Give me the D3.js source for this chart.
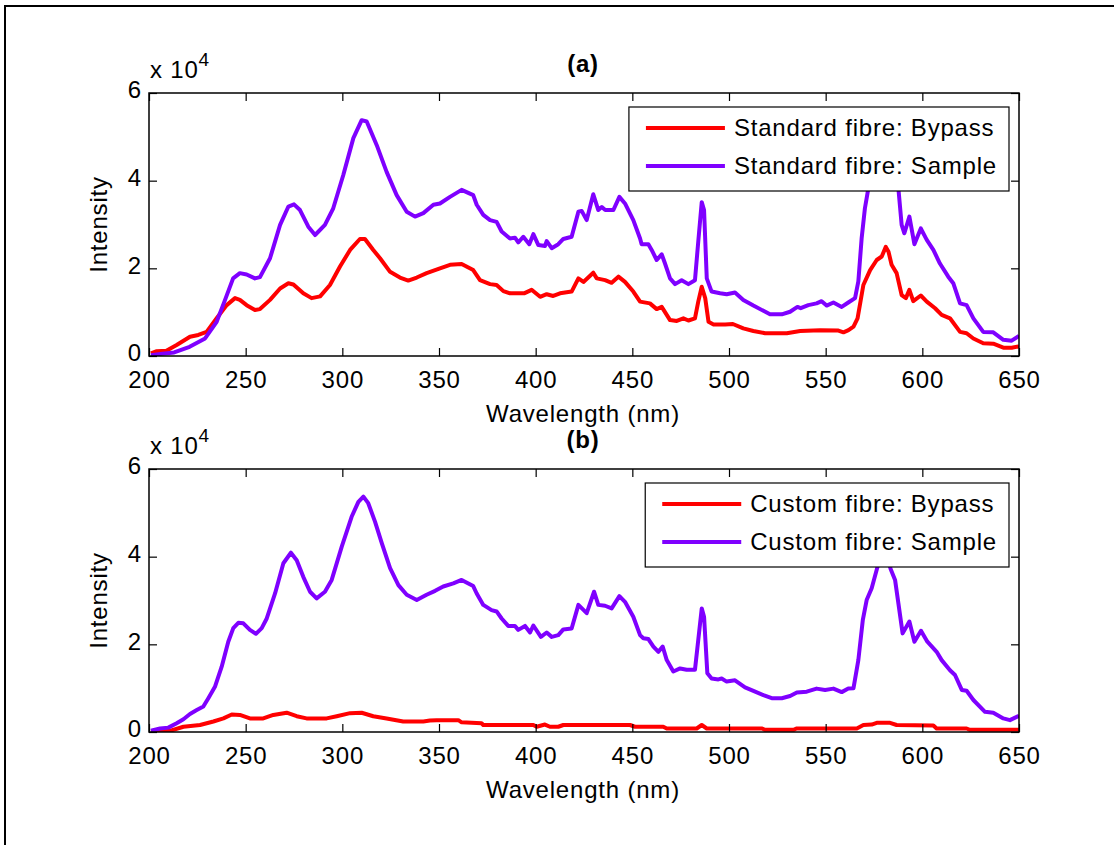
<!DOCTYPE html>
<html>
<head>
<meta charset="utf-8">
<script src="https://cdn.jsdelivr.net/npm/d3@7"></script>
<style>
  html, body { margin: 0; padding: 0; background: #fff; }
  svg { display: block; font-family: "Liberation Sans", Arial, Helvetica, sans-serif; }
  text { letter-spacing: 0.8px; }
</style>
</head>
<body>
<svg id="fig" width="1114" height="845"></svg>
<script>
// ---- data (intensity in units of 10^4 counts) ----
const wavelengthTicks = [200, 250, 300, 350, 400, 450, 500, 550, 600, 650];
const intensityTicks = [0, 2, 4, 6];

const standardSampleWl = [201, 207, 213, 221, 229, 235, 239, 243.5, 247, 250.5,
  254.8, 257.4, 262.6, 267.8, 272.1, 275, 278.1, 282.4, 285.9, 291,
  295.3, 300.5, 305.7, 310, 312.6, 317.8, 322.9, 328.1, 333.3, 337.6,
  341.9, 347.1, 350.5, 355.7, 361.7, 367.7, 369.5, 372.9, 376.4, 379.8,
  382.4, 386.7, 389.3, 391, 393.6, 396.7, 398.8, 401.4, 404.8, 405.7,
  408.3, 411.7, 414.3, 418.6, 422.1, 423.8, 426.4, 429.8, 432.4, 434.2,
  436, 440.2, 443.3, 446.2, 450.5, 454, 454.8, 458.3, 460, 462.6,
  465.2, 466.9, 469.5, 472.1, 475.5, 479, 482.4, 484.1, 485.9, 487.1,
  488.5, 491, 495.4, 498.8, 503.1, 507.4, 512.6, 517.8, 521.2, 527.3,
  531.6, 535.4, 537.1, 541, 545.3, 547.9, 550.5, 554, 558.3, 561.7,
  565.2, 566.9, 568.6, 570.3, 572.1, 576, 580, 584, 587.6, 589.3,
  590.7, 593.3, 595.9, 599.2, 602.3, 605.7, 609.1, 613.4, 616, 619.5,
  622.9, 626.4, 631.5, 636.7, 641.9, 646.2, 650];
const standardSample = [0.02, 0.05, 0.08, 0.21, 0.40, 0.78, 1.24, 1.77, 1.89, 1.86,
  1.77, 1.80, 2.23, 2.99, 3.41, 3.46, 3.33, 2.95, 2.76, 2.99,
  3.37, 4.13, 4.97, 5.38, 5.35, 4.81, 4.20, 3.67, 3.29, 3.18,
  3.26, 3.45, 3.48, 3.63, 3.79, 3.67, 3.45, 3.22, 3.10, 3.06,
  2.84, 2.68, 2.70, 2.59, 2.72, 2.55, 2.78, 2.53, 2.51, 2.62,
  2.46, 2.55, 2.67, 2.72, 3.29, 3.31, 3.10, 3.69, 3.33, 3.40,
  3.33, 3.33, 3.63, 3.48, 3.10, 2.68, 2.55, 2.55, 2.42, 2.19,
  2.32, 2.11, 1.77, 1.64, 1.73, 1.64, 1.73, 2.61, 3.51, 3.33,
  1.77, 1.47, 1.43, 1.41, 1.45, 1.28, 1.15, 1.03, 0.95, 0.95,
  1.01, 1.12, 1.09, 1.16, 1.20, 1.25, 1.15, 1.22, 1.12, 1.22,
  1.32, 1.70, 2.68, 3.37, 3.83, 4.40, 4.60, 4.40, 3.83, 2.99,
  2.80, 3.18, 2.55, 2.91, 2.65, 2.42, 2.11, 1.81, 1.66, 1.20,
  1.16, 0.86, 0.55, 0.54, 0.37, 0.35, 0.46];

const standardBypassWl = [201, 204, 209, 214.3, 221.2, 225.5, 229.8, 235, 240.2, 244.5,
  247, 250.5, 254.8, 257.4, 262.6, 267.8, 272.1, 274.7, 279.8, 284.1,
  288.5, 293.6, 298.8, 304, 309.1, 311.7, 316, 319.5, 324.7, 329.8,
  334.1, 338.5, 343.6, 350.5, 355.7, 361.7, 367.7, 371.2, 376.4, 379.8,
  383.3, 386.7, 391, 394, 397.9, 402.3, 405.7, 409.1, 412.6, 418.6,
  422.1, 424.7, 429.8, 431.6, 435.9, 439.3, 442.8, 446.2, 450.5, 454,
  459.1, 462.6, 465.2, 469.5, 473, 476.4, 479, 482.4, 484.1, 485.9,
  487.7, 489.4, 492, 498, 502, 507.4, 512.6, 518.7, 529.9, 536.8,
  547.1, 556.6, 559.2, 561.8, 564.4, 566.5, 569.5, 573, 576.4, 579,
  581.1, 582.5, 584.1, 586.7, 589.3, 591.5, 593.3, 595.3, 599.2, 602.3,
  606.6, 610, 614.3, 619.5, 622.9, 626.4, 631.5, 636.7, 641.9, 646.2,
  650];
const standardBypass = [0.06, 0.11, 0.12, 0.25, 0.44, 0.48, 0.55, 0.86, 1.16, 1.32,
  1.28, 1.16, 1.05, 1.07, 1.28, 1.54, 1.66, 1.63, 1.43, 1.32,
  1.36, 1.62, 2.04, 2.42, 2.67, 2.67, 2.42, 2.23, 1.92, 1.79,
  1.72, 1.79, 1.89, 2.00, 2.08, 2.10, 1.96, 1.73, 1.64, 1.62,
  1.48, 1.43, 1.43, 1.43, 1.51, 1.35, 1.41, 1.37, 1.43, 1.47,
  1.77, 1.69, 1.90, 1.77, 1.73, 1.67, 1.81, 1.69, 1.47, 1.24,
  1.20, 1.07, 1.12, 0.82, 0.80, 0.86, 0.81, 0.86, 1.24, 1.58,
  1.32, 0.78, 0.72, 0.72, 0.73, 0.63, 0.57, 0.52, 0.52, 0.57,
  0.59, 0.58, 0.54, 0.59, 0.67, 0.86, 1.62, 1.96, 2.19, 2.27,
  2.49, 2.38, 2.08, 1.89, 1.39, 1.32, 1.51, 1.25, 1.38, 1.24,
  1.09, 0.94, 0.86, 0.55, 0.52, 0.40, 0.29, 0.28, 0.19, 0.19,
  0.22];

const customSampleWl = [201, 205.7, 210, 214.3, 217.8, 221.2, 224.7, 228.1, 230.7, 234.1,
  237.6, 241, 243.6, 246.2, 248.8, 252.2, 255.3, 258.3, 260.9, 265.2,
  269.5, 273.4, 276.4, 279.8, 283.3, 286.7, 291, 294.5, 299.7, 304.8,
  308.3, 310.9, 313.4, 316.9, 320.4, 324.7, 329, 333.3, 338.5, 343.6,
  348, 352.2, 357.4, 361.7, 367.7, 369.5, 372.9, 377.2, 379.8, 382.4,
  385.8, 389.3, 391, 394.5, 397.1, 398.8, 402.7, 405.7, 408.3, 411.7,
  414.3, 418.6, 422.1, 426.4, 430.2, 432.4, 435.9, 439.3, 443.3, 446.2,
  450.5, 454, 455.7, 458.3, 460.9, 463.5, 465.7, 467.8, 471.2, 474.7,
  478.1, 482.4, 484.1, 485.9, 487.1, 488.8, 491, 494.5, 496.2, 498.8,
  503.1, 508.3, 512.6, 517.8, 522.1, 527.3, 531.6, 535.1, 540.2, 545.3,
  549.7, 554, 558.3, 561.7, 564.4, 566.9, 569.2, 571.2, 573.8, 576.4,
  580, 583.6, 585.9, 587.6, 589.8, 593.3, 595.9, 599.3, 602.6, 607.4,
  610, 614.3, 616.9, 620.4, 622.9, 626.4, 632.4, 636.7, 641.9, 645.3,
  650];
const customSample = [0.03, 0.08, 0.10, 0.20, 0.29, 0.41, 0.50, 0.58, 0.77, 1.03,
  1.49, 2.06, 2.37, 2.49, 2.48, 2.33, 2.24, 2.37, 2.59, 3.16,
  3.85, 4.09, 3.92, 3.54, 3.20, 3.05, 3.20, 3.47, 4.23, 4.91,
  5.25, 5.37, 5.22, 4.80, 4.31, 3.74, 3.35, 3.13, 3.01, 3.13,
  3.22, 3.32, 3.39, 3.47, 3.33, 3.16, 2.90, 2.78, 2.75, 2.59,
  2.42, 2.42, 2.33, 2.42, 2.27, 2.43, 2.17, 2.27, 2.17, 2.21,
  2.34, 2.36, 2.90, 2.71, 3.20, 2.90, 2.88, 2.82, 3.10, 2.97,
  2.63, 2.21, 2.14, 2.12, 1.95, 1.83, 1.95, 1.64, 1.38, 1.45,
  1.42, 1.42, 2.10, 2.82, 2.63, 1.34, 1.22, 1.20, 1.22, 1.15,
  1.18, 1.02, 0.94, 0.84, 0.77, 0.77, 0.82, 0.90, 0.92, 0.99,
  0.96, 0.99, 0.91, 0.99, 1.00, 1.64, 2.55, 3.01, 3.28, 3.70,
  4.30, 3.72, 3.47, 2.94, 2.25, 2.52, 2.06, 2.31, 2.06, 1.83,
  1.64, 1.41, 1.30, 0.96, 0.94, 0.73, 0.46, 0.44, 0.31, 0.27,
  0.37];

const customBypassWl = [201, 210.4, 217.8, 226.4, 233.3, 238.5, 242.8, 247, 252.2, 259.1,
  264.3, 271.2, 276.4, 281.5, 291.9, 297.1, 304, 310, 316, 322.9,
  331.5, 341.9, 345.3, 348.8, 360, 361.7, 372, 372.9, 398.8, 400.5,
  404.8, 407.4, 411.7, 414.3, 448.8, 451.4, 466, 467.8, 483.3, 485.9,
  488.5, 516.9, 518.7, 533.3, 535.1, 566.1, 569.5, 573.8, 576.4, 583.3,
  586.7, 605.7, 607.4, 622.9, 624.6, 650];
const customBypass = [0.01, 0.02, 0.12, 0.16, 0.24, 0.31, 0.40, 0.39, 0.31, 0.31,
  0.39, 0.44, 0.36, 0.31, 0.31, 0.36, 0.43, 0.44, 0.36, 0.31,
  0.24, 0.24, 0.26, 0.27, 0.27, 0.22, 0.20, 0.16, 0.16, 0.12,
  0.17, 0.12, 0.12, 0.16, 0.16, 0.12, 0.12, 0.08, 0.08, 0.16,
  0.08, 0.08, 0.05, 0.05, 0.08, 0.08, 0.16, 0.17, 0.21, 0.21,
  0.16, 0.15, 0.08, 0.08, 0.05, 0.05];

const panelTitles = ["(a)", "(b)"];
const legendA = ["Standard fibre: Bypass", "Standard fibre: Sample"];
const legendB = ["Custom fibre: Bypass", "Custom fibre: Sample"];
const seriesColors = ["#ff0000", "#7f00ff"];

// ---- layout ----
const W = 1114, H = 845;
const plotLeft = 149, plotRight = 1019;
const panels = [
  { top: 93, bottom: 356, title: panelTitles[0], labels: legendA,
    series: [[standardBypassWl, standardBypass], [standardSampleWl, standardSample]] },
  { top: 469, bottom: 732, title: panelTitles[1], labels: legendB,
    series: [[customBypassWl, customBypass], [customSampleWl, customSample]] }
];

const svg = d3.select("#fig");
svg.append("rect").attr("width", W).attr("height", H).attr("fill", "#fff");

// figure frame (left and top edges)
svg.append("path")
  .attr("d", `M5,${H} V6 H${W}`)
  .attr("fill", "none").attr("stroke", "#000").attr("stroke-width", 2);

const x = d3.scaleLinear().domain([200, 650]).range([plotLeft, plotRight]);
const FS = 24;
const tickLen = 8;

panels.forEach((p, i) => {
  const y = d3.scaleLinear().domain([0, 6]).range([p.bottom, p.top]);
  const g = svg.append("g");

  const clipId = "clip" + i;
  svg.append("clipPath").attr("id", clipId)
    .append("rect").attr("x", plotLeft).attr("y", p.top)
    .attr("width", plotRight - plotLeft).attr("height", p.bottom - p.top);

  // data lines
  const line = d3.line().x(d => x(d[0])).y(d => y(d[1]));
  p.series.forEach((s, k) => {
    const pts = s[0].map((w, j) => [w, s[1][j]]);
    g.append("path").datum(pts)
      .attr("clip-path", `url(#${clipId})`)
      .attr("d", line)
      .attr("fill", "none")
      .attr("stroke", seriesColors[k])
      .attr("stroke-width", 4)
      .attr("stroke-linejoin", "round");
  });

  // axes with inward ticks on all four sides
  const styleAxis = sel => {
    sel.select(".domain").remove();
    sel.selectAll(".tick line").attr("stroke", "#000").attr("stroke-width", 1.2);
    sel.selectAll("text").attr("fill", "#000").attr("font-size", FS)
      .attr("font-family", '"Liberation Sans", Arial, Helvetica, sans-serif');
  };
  g.append("g").attr("transform", `translate(0,${p.bottom})`)
    .call(d3.axisBottom(x).tickValues(wavelengthTicks).tickSize(-tickLen).tickPadding(15).tickFormat(d3.format("d")))
    .call(styleAxis);
  g.append("g").attr("transform", `translate(0,${p.top})`)
    .call(d3.axisTop(x).tickValues(wavelengthTicks).tickSize(-tickLen).tickFormat(""))
    .call(styleAxis);
  g.append("g").attr("transform", `translate(${plotLeft},0)`)
    .call(d3.axisLeft(y).tickValues(intensityTicks).tickSize(-tickLen).tickPadding(7).tickFormat(d3.format("d")))
    .call(styleAxis)
    .call(sel => sel.selectAll("text").attr("dy", "0.2em"));
  g.append("g").attr("transform", `translate(${plotRight},0)`)
    .call(d3.axisRight(y).tickValues(intensityTicks).tickSize(-tickLen).tickFormat(""))
    .call(styleAxis);

  g.append("rect")
    .attr("x", plotLeft).attr("y", p.top)
    .attr("width", plotRight - plotLeft).attr("height", p.bottom - p.top)
    .attr("fill", "none").attr("stroke", "#000").attr("stroke-width", 1.5);

  // exponent label
  const ex = g.append("text").attr("x", plotLeft + 1).attr("y", p.top - 15)
    .attr("font-size", FS).attr("fill", "#000");
  ex.append("tspan").text("x 10");
  ex.append("tspan").attr("font-size", 19).attr("dy", -12).text("4");

  // title
  g.append("text").attr("x", (plotLeft + plotRight) / 2 - 1).attr("y", p.top - 21)
    .attr("text-anchor", "middle").attr("font-size", FS).attr("font-weight", "bold")
    .attr("fill", "#000").text(p.title);

  // axis labels
  g.append("text").attr("x", (plotLeft + plotRight) / 2 - 1).attr("y", p.bottom + 66)
    .attr("text-anchor", "middle").attr("font-size", FS).attr("fill", "#000")
    .text("Wavelength (nm)");
  g.append("text")
    .attr("transform", `translate(107,${(p.top + p.bottom) / 2}) rotate(-90)`)
    .attr("text-anchor", "middle").attr("font-size", FS).attr("fill", "#000")
    .text("Intensity");

  // legend
  const lg = g.append("g");
  const boxRight = plotRight - 10, boxTop = p.top + 14, boxH = 84;
  const texts = p.labels.map((lab, k) =>
    lg.append("text").attr("y", boxTop + 21 + k * 38).attr("dy", "0.35em")
      .attr("font-size", FS).attr("fill", "#000").text(lab));
  const tw = d3.max(texts, t => t.node().getComputedTextLength());
  const boxW = 17 + 79 + 9 + tw + 12;
  const boxLeft = boxRight - boxW;
  lg.insert("rect", ":first-child")
    .attr("x", boxLeft).attr("y", boxTop).attr("width", boxW).attr("height", boxH)
    .attr("fill", "#fff").attr("stroke", "#000").attr("stroke-width", 1.2);
  texts.forEach((t, k) => {
    t.attr("x", boxLeft + 17 + 79 + 9);
    lg.append("line")
      .attr("x1", boxLeft + 17).attr("x2", boxLeft + 17 + 79)
      .attr("y1", boxTop + 21 + k * 38).attr("y2", boxTop + 21 + k * 38)
      .attr("stroke", seriesColors[k]).attr("stroke-width", 4);
  });
});
</script>
</body>
</html>
